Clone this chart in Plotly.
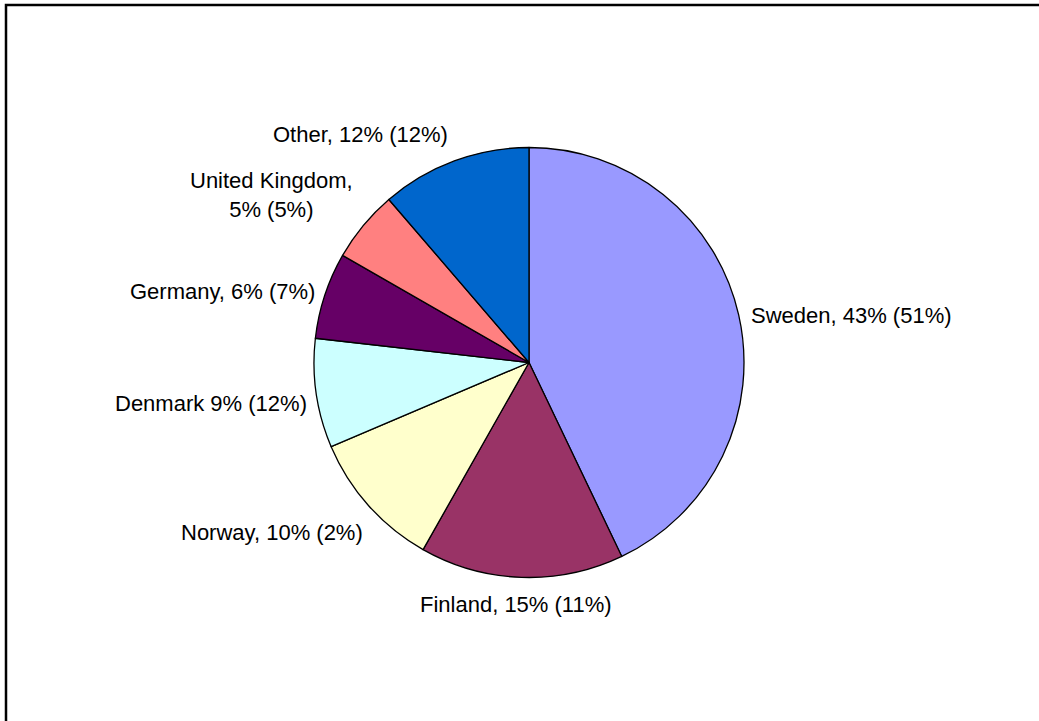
import math
import plotly.graph_objects as go

# ---- data ----
countries = ["Sweden", "Finland", "Norway", "Denmark", "Germany", "United Kingdom", "Other"]
shares = [42.9, 15.3, 10.4, 8.2, 6.5, 5.4, 11.3]
label_texts = [
    "Sweden, 43% (51%)",
    "Finland, 15% (11%)",
    "Norway, 10% (2%)",
    "Denmark 9% (12%)",
    "Germany, 6% (7%)",
    "United Kingdom,<br>5% (5%)",
    "Other, 12% (12%)",
]
colors = ["#9999FF", "#993366", "#FFFFCC", "#CCFFFF", "#660066", "#FF8080", "#0066CC"]

# ---- layout geometry / style ----
W, H = 1039, 721
cx, cy, R = 529, 362.5, 215
FONT = dict(family="Liberation Sans, Arial, sans-serif", size=22, color="#000000")
label_nudge_down = [3, 2, 5, 8, 0, 6, -2]    # small label tweaks (pixels, downward)
label_nudge_right = [0, -5, 5, 4, 3, 0, 0]   # small label tweaks (pixels, rightward)

fig = go.Figure(go.Pie(
    labels=countries,
    values=shares,
    sort=False,
    direction="clockwise",
    rotation=0,
    marker=dict(colors=colors, line=dict(color="#000000", width=1.3)),
    textinfo="none",
    hoverinfo="label+percent",
    showlegend=False,
    domain=dict(x=[(cx - R) / W, (cx + R) / W], y=[1 - (cy + R) / H, 1 - (cy - R) / H]),
))

# labels placed around the pie from each slice's mid angle
total = sum(shares)
cum = 0.0
annotations = []
for val, txt, nd, nr in zip(shares, label_texts, label_nudge_down, label_nudge_right):
    mid = (cum + val / 2) / total * 2 * math.pi
    cum += val
    s, c = math.sin(mid), math.cos(mid)
    r = R + 11
    px = cx + r * s
    py = cy - r * c
    xa = "left" if s > 0.3 else ("right" if s < -0.3 else "center")
    ya = "bottom" if c > 0.35 else ("top" if c < -0.35 else "middle")
    annotations.append(dict(
        x=px / W, y=1 - py / H, xref="paper", yref="paper",
        text=txt, showarrow=False, xanchor=xa, yanchor=ya,
        yshift=-nd, xshift=nr,
        align="center", font=FONT,
    ))

fig.update_layout(
    width=W, height=H,
    margin=dict(l=0, r=0, t=0, b=0),
    paper_bgcolor="#FFFFFF",
    plot_bgcolor="#FFFFFF",
    annotations=annotations,
    shapes=[dict(
        type="rect", xref="paper", yref="paper",
        x0=6 / W, x1=1.01, y0=-0.01, y1=1 - 5 / H,
        line=dict(color="#000000", width=2.5),
    )],
)

fig.write_html(
    "out.html",
    config={"displayModeBar": False},
    post_script="document.body.style.margin='0px';document.body.style.overflow='hidden';",
)
